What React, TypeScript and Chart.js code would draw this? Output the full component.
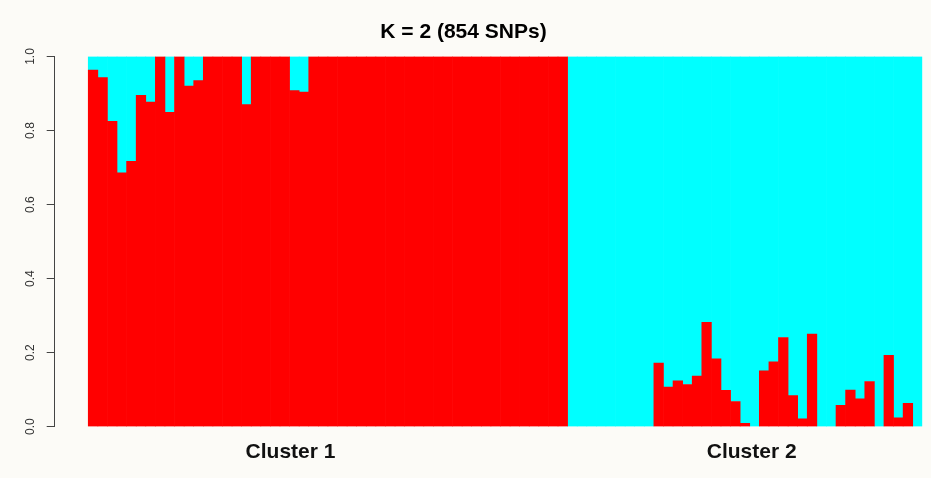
import React, { useEffect, useRef } from 'react';
import { Chart, registerables } from 'chart.js';

Chart.register(...registerables);

// Ancestry proportions (membership in the red cluster) per individual.
const TITLE = 'K = 2 (854 SNPs)';
const clusterNames = ['Cluster 1', 'Cluster 2'];
const yTicks = [0, 0.2, 0.4, 0.6, 0.8, 1.0];

// Individuals assigned to Cluster 1
const group1Red = [
  0.963, 0.943, 0.825, 0.686, 0.717, 0.895, 0.877, 1, 0.849, 1,
  0.92, 0.935, 1, 1, 1, 1, 0.87, 1, 1, 1,
  1, 0.908, 0.904, 1, 1, 1, 1, 1, 1, 1,
  1, 1, 1, 1, 1, 1, 1, 1, 1, 1,
  1, 1, 1, 1, 1, 1, 1, 1, 1, 1,
];

// Individuals assigned to Cluster 2
const group2Red = [
  0, 0, 0, 0, 0, 0, 0, 0, 0, 0.172,
  0.107, 0.124, 0.114, 0.137, 0.282, 0.183, 0.098, 0.068, 0.009, 0,
  0.151, 0.175, 0.241, 0.084, 0.021, 0.25, 0, 0, 0.058, 0.099,
  0.075, 0.122, 0, 0.193, 0.024, 0.063, 0,
];

// Where the group captions sit, in individual-index units
const captionAt = [20.6, 68.7];

const RED = '#ff0000';
const CYAN = '#00ffff';
const FONT = "'Liberation Sans', Arial, Helvetica, sans-serif";

// Empty segments get no paint, so zero-height bars leave no sliver.
const fillFor = (color: string) => (ctx: any) =>
  ctx.raw && ctx.raw.y > 0 ? color : 'rgba(0,0,0,0)';

export default function App() {
  const canvasRef = useRef<HTMLCanvasElement>(null);

  useEffect(() => {
    const canvas = canvasRef.current;
    if (!canvas) return;
    const red = [...group1Red, ...group2Red];
    const redPts = red.map((v, i) => ({ x: i, y: v }));
    const cyanPts = red.map((v, i) => ({ x: i, y: 1 - v }));

    const chart = new Chart(canvas, {
      type: 'bar',
      data: {
        datasets: [
          {
            label: 'Q1',
            data: redPts,
            backgroundColor: fillFor(RED),
            borderWidth: 0,
            grouped: false,
            barPercentage: 1,
            categoryPercentage: 1,
          },
          {
            label: 'Q2',
            data: cyanPts,
            backgroundColor: fillFor(CYAN),
            borderWidth: 0,
            grouped: false,
            barPercentage: 1,
            categoryPercentage: 1,
          },
        ],
      },
      options: {
        responsive: false,
        animation: false,
        devicePixelRatio: 1,
        layout: { padding: { left: 4.7, right: 8.7, top: 0, bottom: 0 } },
        plugins: {
          legend: { display: false },
          tooltip: { enabled: false },
          title: {
            display: true,
            text: TITLE,
            color: '#000',
            font: { family: FONT, size: 21, weight: 'bold' },
            padding: { top: 20, bottom: 11.3 },
          },
        },
        scales: {
          x: {
            type: 'linear',
            offset: false,
            stacked: false,
            bounds: 'data',
            min: -4,
            max: red.length - 0.5,
            afterBuildTicks: (s: any) => {
              s.ticks = captionAt.map((v) => ({ value: v }));
            },
            afterFit: (s: any) => {
              s.height = 51.3;
            },
            ticks: {
              autoSkip: false,
              maxRotation: 0,
              minRotation: 0,
              padding: 13,
              color: '#111',
              font: { family: FONT, size: 21, weight: 'bold' },
              callback: (_v: any, i: number) => clusterNames[i],
            },
            grid: { display: false, drawTicks: false, offset: false },
            border: { display: false },
          },
          y: {
            stacked: true,
            min: 0,
            max: 1,
            afterBuildTicks: (s: any) => {
              s.ticks = yTicks.map((v) => ({ value: v }));
            },
            afterFit: (s: any) => {
              s.width = 50;
            },
            ticks: {
              minRotation: 90,
              maxRotation: 90,
              crossAlign: 'center',
              padding: 8,
              color: '#333',
              font: { family: FONT, size: 12 },
              callback: (v: any) => Number(v).toFixed(1),
            },
            grid: { drawOnChartArea: false, tickLength: 8, color: '#444', lineWidth: 1 },
            border: { display: true, color: '#444', width: 1 },
          },
        },
      },
    });
    return () => chart.destroy();
  }, []);

  return (
    <div
      style={{
        position: 'absolute',
        left: 0,
        top: 0,
        width: 931,
        height: 478,
        background: '#fcfbf7',
      }}
    >
      <canvas ref={canvasRef} width={931} height={478} style={{ display: 'block' }} />
    </div>
  );
}
